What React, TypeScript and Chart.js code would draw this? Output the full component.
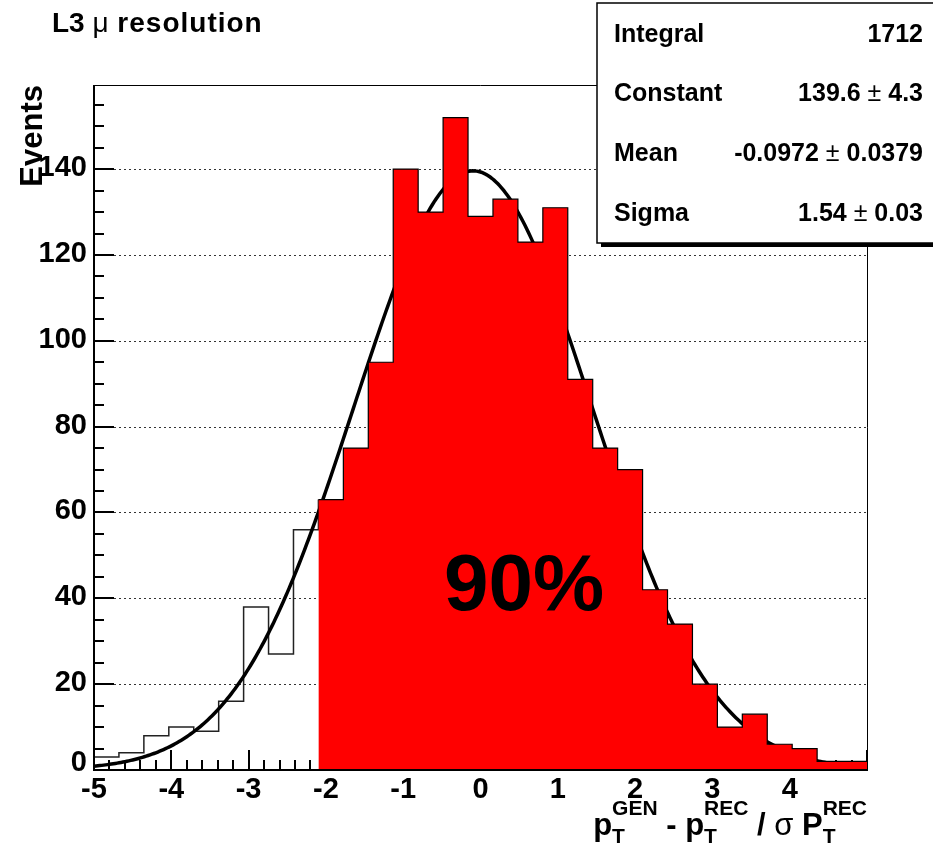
import React, { useEffect, useRef } from "react";
import { Chart, registerables } from "chart.js";

Chart.register(...registerables);

// Histogram range and binning: 31 equal bins over [-5, 5]
const X_MIN = -5;
const X_MAX = 5;
const Y_MAX = 159.6;

// Entries per bin, left tail (below the cut) and the selected core region
const tailCounts = [3, 4, 8, 10, 9, 16, 38, 27, 56];
const coreCounts = [
  63, 75, 95, 140, 130, 152, 129, 133, 123, 131, 91, 75, 70, 42, 34, 20, 10, 13, 6, 5, 2, 2,
];

// Gaussian fit parameters
const FIT_CONSTANT = 139.6;
const FIT_CONSTANT_ERR = 4.3;
const FIT_MEAN = -0.0972;
const FIT_MEAN_ERR = 0.0379;
const FIT_SIGMA = 1.54;
const FIT_SIGMA_ERR = 0.03;

// Axis decorations
const yTickValues = [0, 20, 40, 60, 80, 100, 120, 140];
const yTickLabels = ["0", "20", "40", "60", "80", "100", "120", "140"];
const yGridValues = [20, 40, 60, 80, 100, 120, 140];
const xTickValues = [-5, -4, -3, -2, -1, 0, 1, 2, 3, 4];
const xTickLabels = ["-5", "-4", "-3", "-2", "-1", "0", "1", "2", "3", "4"];
const Y_MINOR_STEP = 5;
const X_MINOR_STEP = 0.2;

const FRACTION_LABEL = "90%";
const TITLE_PARTS = ["L3 ", "\u03bc", " resolution"];
const Y_TITLE = "Events";

const FONT = '"Liberation Sans", Arial, Helvetica, sans-serif';

const nBins = tailCounts.length + coreCounts.length;
const binWidth = (X_MAX - X_MIN) / nBins;
const edge = (i: number) => X_MIN + i * binWidth;

const allCounts = [...tailCounts, ...coreCounts];
const integral = allCounts.reduce((s, v) => s + v, 0);

const statsLabels = ["Integral", "Constant", "Mean", "Sigma"];
const statsValues: [string, string | null][] = [
  [String(integral), null],
  [FIT_CONSTANT.toFixed(1), FIT_CONSTANT_ERR.toFixed(1)],
  [FIT_MEAN.toFixed(4), FIT_MEAN_ERR.toFixed(4)],
  [FIT_SIGMA.toFixed(2), FIT_SIGMA_ERR.toFixed(2)],
];

// Step outline of the tail, ending on the first core bin's height
const tailPoints = [
  ...tailCounts.map((c, i) => ({ x: edge(i), y: c })),
  { x: edge(tailCounts.length), y: coreCounts[0] },
];

// Filled core region
const corePoints = [
  ...coreCounts.map((c, i) => ({ x: edge(tailCounts.length + i), y: c })),
  { x: edge(nBins), y: coreCounts[coreCounts.length - 1] },
];

// Fitted gaussian, sampled along the axis
const fitPoints: { x: number; y: number }[] = [];
for (let i = 0; i <= 400; i++) {
  const x = X_MIN + (i * (X_MAX - X_MIN)) / 400;
  const z = (x - FIT_MEAN) / FIT_SIGMA;
  fitPoints.push({ x, y: FIT_CONSTANT * Math.exp(-0.5 * z * z) });
}

type Run = { text: string; font: string };

function drawRunsRight(ctx: CanvasRenderingContext2D, runs: Run[], right: number, baseline: number) {
  let w = 0;
  for (const r of runs) {
    ctx.font = r.font;
    w += ctx.measureText(r.text).width;
  }
  let x = right - w;
  ctx.textAlign = "left";
  for (const r of runs) {
    ctx.font = r.font;
    ctx.fillText(r.text, x, baseline);
    x += ctx.measureText(r.text).width;
  }
}

const rootStyle = {
  id: "rootStyle",
  beforeDatasetsDraw(chart: any) {
    const { ctx, chartArea: a, scales } = chart;
    const xs = scales.x;
    const ys = scales.y;
    ctx.save();
    // dotted horizontal grid
    ctx.strokeStyle = "#333";
    ctx.lineWidth = 1;
    ctx.setLineDash([2, 3]);
    for (const v of yGridValues) {
      const py = Math.round(ys.getPixelForValue(v)) + 0.5;
      ctx.beginPath();
      ctx.moveTo(a.left, py);
      ctx.lineTo(a.right, py);
      ctx.stroke();
    }
    ctx.setLineDash([]);
    // ticks pointing into the frame
    ctx.strokeStyle = "#000";
    ctx.lineWidth = 2;
    for (let v = 0; v < Y_MAX; v += Y_MINOR_STEP) {
      const len = v % 20 === 0 ? 20 : 10;
      const py = Math.round(ys.getPixelForValue(v));
      ctx.beginPath();
      ctx.moveTo(a.left, py);
      ctx.lineTo(a.left + len, py);
      ctx.stroke();
    }
    const nMinor = Math.round((X_MAX - X_MIN) / X_MINOR_STEP);
    for (let i = 0; i <= nMinor; i++) {
      const v = X_MIN + i * X_MINOR_STEP;
      const len = i % 5 === 0 ? 20 : 10;
      const px = Math.round(xs.getPixelForValue(v));
      ctx.beginPath();
      ctx.moveTo(px, a.bottom);
      ctx.lineTo(px, a.bottom - len);
      ctx.stroke();
    }
    ctx.restore();
  },
  afterDatasetsDraw(chart: any) {
    const { ctx, chartArea: a } = chart;
    ctx.save();
    ctx.strokeStyle = "#000";
    ctx.lineWidth = 1;
    ctx.beginPath();
    ctx.moveTo(a.left, a.top + 0.5);
    ctx.lineTo(a.right + 0.5, a.top + 0.5);
    ctx.lineTo(a.right + 0.5, a.bottom);
    ctx.stroke();
    ctx.lineWidth = 2;
    ctx.beginPath();
    ctx.moveTo(a.left, a.top);
    ctx.lineTo(a.left, a.bottom);
    ctx.lineTo(a.right + 1, a.bottom);
    ctx.stroke();
    ctx.restore();
  },
  afterDraw(chart: any) {
    const { ctx, chartArea: a, scales } = chart;
    const xs = scales.x;
    const ys = scales.y;
    ctx.save();
    ctx.fillStyle = "#000";
    ctx.textBaseline = "alphabetic";

    // y tick labels
    ctx.font = `bold 29px ${FONT}`;
    ctx.textAlign = "right";
    yTickValues.forEach((v, i) => {
      const py = ys.getPixelForValue(v);
      const base = v === 0 ? a.bottom + 1 : py + 7;
      ctx.fillText(yTickLabels[i], a.left - 7, base);
    });

    // x tick labels
    ctx.textAlign = "center";
    xTickValues.forEach((v, i) => {
      ctx.fillText(xTickLabels[i], xs.getPixelForValue(v), a.bottom + 28);
    });

    // y axis title
    ctx.save();
    ctx.translate(42, a.top);
    ctx.rotate(-Math.PI / 2);
    ctx.font = `bold 31px ${FONT}`;
    ctx.textAlign = "right";
    ctx.fillText(Y_TITLE, 0, 0);
    ctx.restore();

    // x axis title with sub/superscripts
    const mainF = `bold 31px ${FONT}`;
    const symF = `31px ${FONT}`;
    const scrF = `bold 21px ${FONT}`;
    type Piece = { t?: string; f?: string; sub?: string; sup?: string };
    const pieces: Piece[] = [
      { t: "p", f: mainF },
      { sub: "T", sup: "GEN" },
      { t: " - ", f: mainF },
      { t: "p", f: mainF },
      { sub: "T", sup: "REC" },
      { t: " / ", f: mainF },
      { t: "\u03c3", f: symF },
      { t: " ", f: mainF },
      { t: "P", f: mainF },
      { sub: "T", sup: "REC" },
    ];
    const widthOf = (p: Piece) => {
      if (p.t !== undefined) {
        ctx.font = p.f;
        return ctx.measureText(p.t).width;
      }
      ctx.font = scrF;
      return Math.max(ctx.measureText(p.sub!).width, ctx.measureText(p.sup!).width);
    };
    const total = pieces.reduce((s, p) => s + widthOf(p), 0);
    let cx = a.right - total;
    const base = 835;
    ctx.textAlign = "left";
    for (const p of pieces) {
      const w = widthOf(p);
      if (p.t !== undefined) {
        ctx.font = p.f!;
        ctx.fillText(p.t, cx, base);
      } else {
        ctx.font = scrF;
        ctx.fillText(p.sup!, cx, base - 20);
        ctx.fillText(p.sub!, cx, base + 8);
      }
      cx += w;
    }

    // fraction annotation
    ctx.font = `bold 80px ${FONT}`;
    ctx.textAlign = "center";
    ctx.fillText(FRACTION_LABEL, 524, 610);

    // title
    ctx.textAlign = "left";
    let tx = 52;
    TITLE_PARTS.forEach((t, i) => {
      ctx.font = i === 1 ? `28px ${FONT}` : `bold 28px ${FONT}`;
      (ctx as any).letterSpacing = i === 2 ? "1px" : "0px";
      ctx.fillText(t, tx, 32);
      tx += ctx.measureText(t).width;
    });
    (ctx as any).letterSpacing = "0px";

    // statistics box
    const bx = 597;
    const by = 3;
    const bw = 340;
    const bh = 240;
    ctx.fillStyle = "#000";
    ctx.fillRect(bx + 4, by + bh, bw, 4);
    ctx.fillStyle = "#fff";
    ctx.fillRect(bx, by, bw, bh);
    ctx.strokeStyle = "#000";
    ctx.lineWidth = 1.5;
    ctx.strokeRect(bx, by, bw, bh);
    ctx.fillStyle = "#000";
    const rows = [42, 101, 161, 221];
    statsLabels.forEach((lab, i) => {
      ctx.font = `bold 25px ${FONT}`;
      ctx.textAlign = "left";
      ctx.fillText(lab, 614, rows[i]);
      const [val, err] = statsValues[i];
      const runs: Run[] = [{ text: val, font: `bold 25px ${FONT}` }];
      if (err !== null) {
        runs.push({ text: " \u00b1 ", font: `25px ${FONT}` });
        runs.push({ text: err, font: `bold 25px ${FONT}` });
      }
      drawRunsRight(ctx, runs, 923, rows[i]);
    });

    ctx.restore();
  },
};

export default function App() {
  const ref = useRef<HTMLCanvasElement>(null);

  useEffect(() => {
    const canvas = ref.current;
    if (!canvas) return;
    const chart = new Chart(canvas, {
      type: "line",
      data: {
        datasets: [
          {
            data: corePoints,
            stepped: true,
            fill: "origin",
            backgroundColor: "#ff0000",
            borderColor: "#000",
            borderWidth: 1.2,
            pointRadius: 0,
            order: 0,
          },
          {
            data: fitPoints,
            fill: false,
            borderColor: "#000",
            borderWidth: 3.5,
            pointRadius: 0,
            tension: 0,
            order: 1,
          },
          {
            data: tailPoints,
            stepped: true,
            fill: false,
            borderColor: "#222",
            borderWidth: 1.5,
            pointRadius: 0,
            order: 2,
          },
        ],
      },
      options: {
        animation: false,
        responsive: false,
        devicePixelRatio: 1,
        events: [],
        layout: { padding: { left: 94, right: 66, top: 85, bottom: 74 } },
        scales: {
          x: { type: "linear", min: X_MIN, max: X_MAX, display: false },
          y: { type: "linear", min: 0, max: Y_MAX, display: false },
        },
        plugins: {
          legend: { display: false },
          tooltip: { enabled: false },
        },
      },
      plugins: [rootStyle],
    });
    return () => chart.destroy();
  }, []);

  return (
    <div style={{ position: "absolute", left: 0, top: 0, width: 933, height: 844, background: "#fff" }}>
      <canvas ref={ref} width={933} height={844} style={{ display: "block", width: 933, height: 844 }} />
    </div>
  );
}
